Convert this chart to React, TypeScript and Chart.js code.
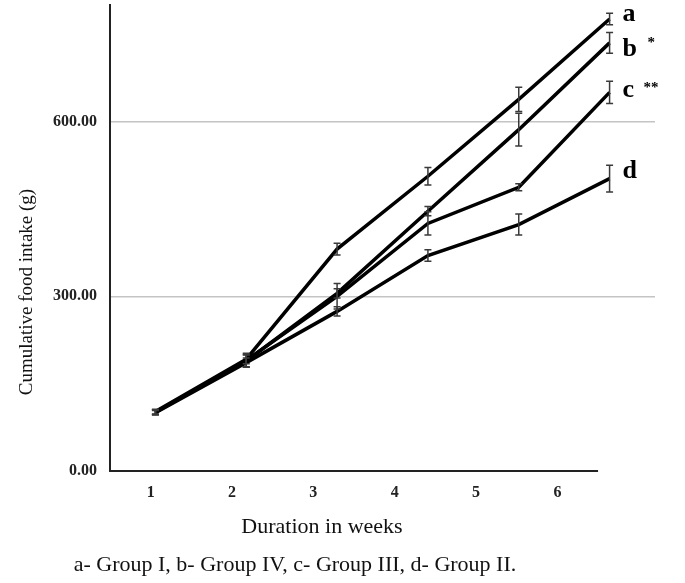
import React, { useEffect, useRef } from 'react';
import { Chart, registerables } from 'chart.js';

Chart.register(...registerables);

const weeks = [1, 2, 3, 4, 5, 6];
const weekLabels = ['1', '2', '3', '4', '5', '6'];
const groupA = [102, 192, 381, 506, 638, 776];
const groupB = [101, 189, 305, 446, 586, 735];
const groupC = [101, 190, 300, 425, 487, 650];
const groupD = [100, 186, 274, 370, 423, 502];
const errA = [4, 8, 10, 15, 21, 10];
const errB = [4, 10, 8, 8, 28, 18];
const errC = [4, 12, 22, 20, 6, 19];
const errD = [4, 8, 8, 10, 18, 23];
const seriesNames = ['a', 'b', 'c', 'd'];
const seriesMarks = ['', '*', '**', ''];
const yTickValues = [0, 300, 600];
const yTitle = 'Cumulative food intake (g)';
const xTitle = 'Duration in weeks';
const caption = 'a- Group I, b- Group IV, c- Group III, d- Group II.';

const seriesValues = [groupA, groupB, groupC, groupD];
const seriesErrors = [errA, errB, errC, errD];

const SERIF = "'Liberation Serif', 'Times New Roman', serif";
const labelDy = [-5, 6, -2, -7];
const markDx = [0, 38, 34, 0];
const markDy = [0, -6, -2, 0];

const decorPlugin = {
  id: 'decor',
  afterDatasetsDraw(chart: any) {
    const { ctx, scales, chartArea } = chart;
    const xs = scales.x;
    const ys = scales.y;
    const x2 = scales.x2;
    ctx.save();
    // x axis line
    ctx.strokeStyle = '#222';
    ctx.lineWidth = 2;
    ctx.beginPath();
    const yb = ys.getPixelForValue(0);
    ctx.moveTo(x2.getPixelForValue(0.5) - 1, yb);
    ctx.lineTo(x2.getPixelForValue(6.5), yb);
    ctx.stroke();
    // error bars
    ctx.strokeStyle = '#3a3a3a';
    ctx.lineWidth = 1.5;
    seriesValues.forEach((vals, si) => {
      vals.forEach((v, i) => {
        const e = seriesErrors[si][i];
        const px = xs.getPixelForValue(weeks[i]);
        const top = ys.getPixelForValue(v + e);
        const bot = ys.getPixelForValue(v - e);
        ctx.beginPath();
        ctx.moveTo(px, top);
        ctx.lineTo(px, bot);
        ctx.moveTo(px - 3.5, top);
        ctx.lineTo(px + 3.5, top);
        ctx.moveTo(px - 3.5, bot);
        ctx.lineTo(px + 3.5, bot);
        ctx.stroke();
      });
    });
    // series labels
    ctx.fillStyle = '#000';
    ctx.textBaseline = 'middle';
    ctx.textAlign = 'left';
    seriesValues.forEach((vals, si) => {
      const last = vals.length - 1;
      const px = xs.getPixelForValue(weeks[last]);
      const py = ys.getPixelForValue(vals[last]) + labelDy[si];
      ctx.font = `bold 26px ${SERIF}`;
      ctx.fillText(seriesNames[si], px + 13, py);
      if (seriesMarks[si]) {
        ctx.font = `bold 15px ${SERIF}`;
        ctx.fillText(seriesMarks[si], px + markDx[si], py + markDy[si]);
      }
    });
    // titles
    ctx.fillStyle = '#111';
    ctx.textAlign = 'center';
    ctx.font = `22px ${SERIF}`;
    ctx.fillText(xTitle, chartArea.left + 212, 527);
    ctx.font = `22px ${SERIF}`;
    ctx.fillText(caption, 295, 565);
    ctx.translate(27, 292);
    ctx.rotate(-Math.PI / 2);
    ctx.font = `19px ${SERIF}`;
    ctx.fillText(yTitle, 0, 0);
    ctx.restore();
  },
};

export default function App() {
  const ref = useRef<HTMLCanvasElement>(null);
  useEffect(() => {
    if (!ref.current) return;
    const chart = new Chart(ref.current, {
      type: 'line',
      data: {
        datasets: seriesValues.map((vals, si) => ({
          label: seriesNames[si],
          data: vals.map((v, i) => ({ x: weeks[i], y: v })),
          borderColor: '#000',
          borderWidth: 3.5,
          pointRadius: 0,
          fill: false,
          tension: 0,
          xAxisID: 'x',
          yAxisID: 'y',
        })),
      },
      options: {
        animation: false,
        responsive: false,
        layout: { padding: { left: 8, right: 30, top: 5, bottom: 0 } },
        plugins: { legend: { display: false }, tooltip: { enabled: false } },
        scales: {
          x: { type: 'linear', min: 0.5, max: 6.5, display: false },
          x2: {
            type: 'linear',
            position: 'bottom',
            min: 0.5,
            max: 7.2,
            afterBuildTicks: (s: any) => {
              s.ticks = weeks.map((w) => ({ value: w }));
            },
            afterFit: (s: any) => {
              s.height = 112;
              s.paddingLeft = 0;
              s.paddingRight = 0;
            },
            grid: { display: false, drawTicks: false },
            border: { display: false },
            ticks: {
              padding: 12,
              color: '#222',
              font: { family: SERIF, size: 16, weight: 'bold' },
              callback: (v: any) => weekLabels[weeks.indexOf(Number(v))] ?? '',
            },
          },
          y: {
            type: 'linear',
            min: 0,
            max: 800,
            afterBuildTicks: (s: any) => {
              s.ticks = yTickValues.map((v) => ({ value: v }));
            },
            afterFit: (s: any) => {
              s.width = 102;
              s.paddingTop = 0;
              s.paddingBottom = 0;
            },
            grid: {
              drawTicks: false,
              lineWidth: 1.5,
              color: (c: any) => (c.tick && c.tick.value === 0 ? 'rgba(0,0,0,0)' : '#c4c4c4'),
            },
            border: { display: true, color: '#222', width: 2 },
            ticks: {
              padding: 13,
              color: '#222',
              font: { family: SERIF, size: 16, weight: 'bold' },
              callback: (v: any) => Number(v).toFixed(2),
            },
          },
        },
      },
      plugins: [decorPlugin],
    } as any);
    return () => chart.destroy();
  }, []);
  return (
    <div style={{ position: 'absolute', left: 0, top: 0, width: 685, height: 583, background: '#fff' }}>
      <canvas ref={ref} width={685} height={583} style={{ display: 'block' }} />
    </div>
  );
}
